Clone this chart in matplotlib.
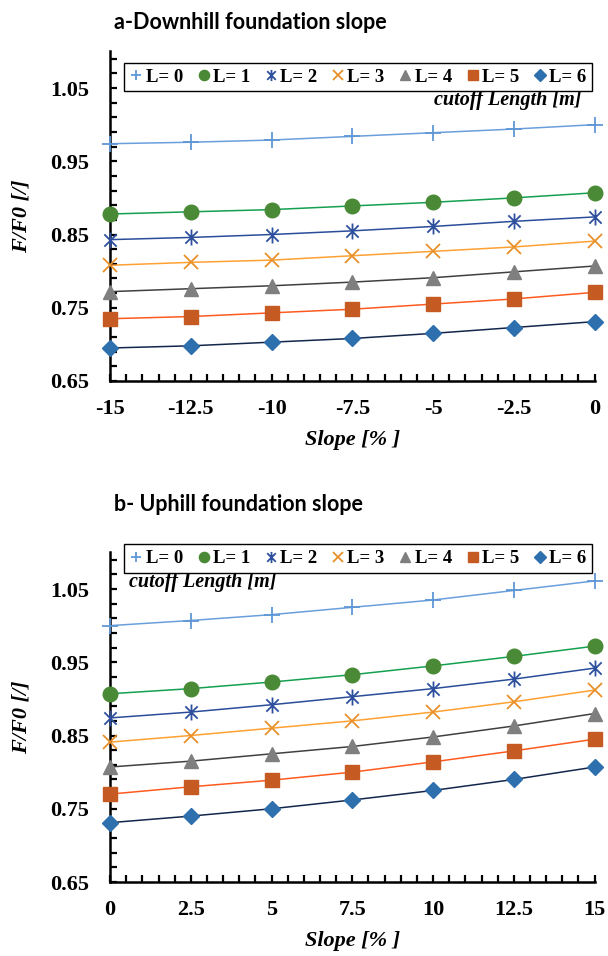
import numpy as np
import matplotlib
matplotlib.use("Agg")
import matplotlib.pyplot as plt
from matplotlib.path import Path
from matplotlib.ticker import FixedLocator

# data
slope_down = [-15, -12.5, -10, -7.5, -5, -2.5, 0]
slope_up = [0, 2.5, 5, 7.5, 10, 12.5, 15]
labels = ["L= 0", "L= 1", "L= 2", "L= 3", "L= 4", "L= 5", "L= 6"]

down_L0 = [0.974, 0.976, 0.979, 0.984, 0.989, 0.994, 1.000]
down_L1 = [0.878, 0.881, 0.884, 0.889, 0.894, 0.900, 0.907]
down_L2 = [0.843, 0.846, 0.850, 0.855, 0.861, 0.868, 0.874]
down_L3 = [0.808, 0.812, 0.815, 0.821, 0.827, 0.833, 0.841]
down_L4 = [0.772, 0.776, 0.780, 0.785, 0.791, 0.799, 0.807]
down_L5 = [0.735, 0.738, 0.743, 0.748, 0.755, 0.762, 0.771]
down_L6 = [0.695, 0.698, 0.703, 0.708, 0.715, 0.723, 0.731]

up_L0 = [1.000, 1.007, 1.015, 1.025, 1.035, 1.048, 1.061]
up_L1 = [0.907, 0.914, 0.923, 0.933, 0.945, 0.958, 0.972]
up_L2 = [0.874, 0.882, 0.892, 0.903, 0.914, 0.927, 0.942]
up_L3 = [0.841, 0.850, 0.860, 0.870, 0.882, 0.896, 0.912]
up_L4 = [0.807, 0.815, 0.825, 0.835, 0.848, 0.863, 0.880]
up_L5 = [0.770, 0.780, 0.789, 0.800, 0.814, 0.829, 0.845]
up_L6 = [0.731, 0.740, 0.750, 0.762, 0.775, 0.790, 0.807]

# excel style star: X with a vertical bar
star = Path([(-1, -1), (1, 1), (-1, 1), (1, -1), (0, -1.3), (0, 1.3)],
            [Path.MOVETO, Path.LINETO, Path.MOVETO, Path.LINETO, Path.MOVETO, Path.LINETO])

markers = ["+", "o", star, "x", "^", "s", "D"]
msizes = [11, 10.5, 11.5, 10, 10.5, 9.5, 8.5]
mcolors = ["#5f97d6", "#4a8a36", "#2d4f9e", "#e8902a", "#7f7f7f", "#c55a23", "#2e6fad"]
lcolors = ["#6a9fdc", "#14a050", "#2a4d9a", "#ffa033", "#404040", "#ff5a1f", "#14264a"]

serif = "Liberation Serif"


def draw(ax, x, series, xticks, xticklabels, cut_xy, cut_ha, leg_top):
    for i, y in enumerate(series):
        ax.plot(x, y, color=lcolors[i], lw=1.1, zorder=2, clip_on=False)
        filled = markers[i] not in ["+", "x", star]
        ax.plot(x, y, ls="none", marker=markers[i], ms=msizes[i],
                color=mcolors[i], mew=1.3 if not filled else 1.0,
                mec=mcolors[i], label=labels[i], zorder=3, clip_on=False)
    ax.set_xlim(x[0], x[-1])
    ax.set_ylim(0.65, 1.1)
    for s in ["top", "right"]:
        ax.spines[s].set_visible(False)
    for s in ["left", "bottom"]:
        ax.spines[s].set_linewidth(1.8)
    ax.set_xticks(xticks)
    ax.set_xticklabels(xticklabels)
    ax.xaxis.set_minor_locator(FixedLocator(np.arange(x[0], x[-1] + 0.01, 0.5)))
    ax.set_yticks([0.65, 0.75, 0.85, 0.95, 1.05])
    ax.set_yticklabels(["0.65", "0.75", "0.85", "0.95", "1.05"])
    ax.yaxis.set_minor_locator(FixedLocator(np.arange(0.65, 1.1, 0.02)))
    ax.tick_params(which="both", direction="in", length=5, width=1.6)
    ax.tick_params(axis="x", which="major", pad=13)
    ax.tick_params(axis="y", which="major", pad=15)
    for t in ax.get_xticklabels() + ax.get_yticklabels():
        t.set_fontfamily(serif)
        t.set_fontweight("bold")
        t.set_fontsize(16)
    ax.set_xlabel("Slope [% ]", family=serif, weight="bold", style="italic", fontsize=16)
    ax.xaxis.set_label_coords(0.5, -0.15)
    ax.set_ylabel("F/F0 [/]", family=serif, weight="bold", style="italic", fontsize=16)
    ax.yaxis.set_label_coords(-0.163, 0.5)
    ax.text(cut_xy[0], cut_xy[1], "cutoff Length [m]", ha=cut_ha, va="center",
            family=serif, weight="bold", style="italic", fontsize=14.5)
    leg = ax.legend(loc="upper center", bbox_to_anchor=(0.589, leg_top),
                    bbox_transform=fig.transFigure, ncol=7,
                    prop={"family": serif, "weight": "bold", "size": 13.5},
                    handlelength=0.7, handletextpad=0.15, columnspacing=0.75,
                    borderpad=0.3, fancybox=False, framealpha=1, markerscale=0.7)
    leg.get_frame().set_edgecolor("black")
    leg.get_frame().set_linewidth(1.0)


fig = plt.figure(figsize=(6.08, 9.56), dpi=100)
ax1 = fig.add_axes([0.181, 0.6015, 0.797, 0.3447])
ax2 = fig.add_axes([0.181, 0.0774, 0.797, 0.3448])

draw(ax1, slope_down, [down_L0, down_L1, down_L2, down_L3, down_L4, down_L5, down_L6],
     slope_down, ["-15", "-12.5", "-10", "-7.5", "-5", "-2.5", "0"],
     (-0.4, 1.033), "right", 0.944)
draw(ax2, slope_up, [up_L0, up_L1, up_L2, up_L3, up_L4, up_L5, up_L6],
     slope_up, ["0", "2.5", "5", "7.5", "10", "12.5", "15"],
     (0.6, 1.06), "left", 0.4404)

fig.text(0.1875, 0.976, "a-Downhill foundation slope", family="Lato", weight="bold",
         fontsize=15.5, va="center", ha="left")
fig.text(0.1875, 0.472, "b- Uphill foundation slope", family="Lato", weight="bold",
         fontsize=15.5, va="center", ha="left")

fig.savefig("out.png", dpi=100)
